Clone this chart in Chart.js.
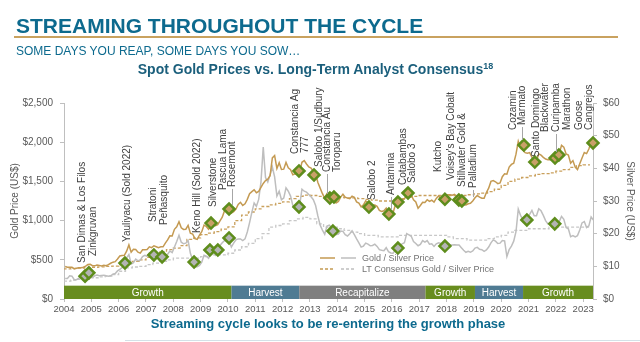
<!DOCTYPE html>
<html>
<head>
<meta charset="utf-8">
<title>Streaming throughout the cycle</title>
<script src="https://cdn.jsdelivr.net/npm/chart.js@4.4.0/dist/chart.umd.min.js"></script>
<style>
    body { margin: 0; background: #fff; font-family: "Liberation Sans", Arial, sans-serif; }
    #page { position: relative; width: 640px; height: 342px; overflow: hidden; background: #fff; }
    #chart { position: absolute; left: 0; top: 0; }
    .txt { position: absolute; line-height: 1; white-space: nowrap; }
    #title { left: 16px; top: 15px; font-size: 21px; font-weight: bold; color: #0d6a8e; }
    #rule { position: absolute; left: 14px; top: 36px; width: 604px; height: 2px; background: #c9a25f; }
    #subtitle { left: 16px; top: 45px; font-size: 12px; color: #0d6a8e; }
    #chartTitle { left: 0; width: 631px; top: 62px; text-align: center; font-size: 14px; font-weight: bold; color: #1b5f7c; }
    #chartTitle span { font-size: 9px; position: relative; top: -5px; }
    #caption { left: 0; width: 656px; top: 317px; text-align: center; font-size: 13px; font-weight: bold; color: #0d6a8e; }
    #footLine { position: absolute; left: 125px; top: 340px; width: 515px; height: 1px; background: #d4e1e7; }
</style>
</head>
<body>
<div id="page">
    <canvas id="chart" width="640" height="342"></canvas>
    <div class="txt" id="title">STREAMING THROUGHOUT THE CYCLE</div>
    <div id="rule"></div>
    <div class="txt" id="subtitle">SOME DAYS YOU REAP, SOME DAYS YOU SOW…</div>
    <div class="txt" id="chartTitle">Spot Gold Prices vs. Long-Term Analyst Consensus<span>18</span></div>
    <div class="txt" id="caption">Streaming cycle looks to be re-entering the growth phase</div>
    <div id="footLine"></div>
</div>
<script>
'use strict';

// Monthly spot prices, Jan 2004 - May 2023
var goldPrice = [
    414, 405, 406, 404, 384, 392, 398, 400, 405, 420, 439, 442,
    424, 423, 434, 429, 422, 431, 424, 438, 456, 470, 476, 510,
    549, 555, 557, 610, 690, 596, 633, 632, 598, 585, 627, 629,
    631, 665, 655, 679, 667, 655, 665, 665, 712, 754, 806, 803,
    889, 922, 985, 909, 888, 890, 939, 839, 829, 770, 760, 816,
    858, 943, 925, 890, 928, 945, 934, 949, 996, 1043, 1127, 1135,
    1118, 1095, 1113, 1148, 1205, 1233, 1193, 1215, 1271, 1343, 1370, 1392,
    1356, 1372, 1424, 1474, 1510, 1529, 1572, 1800, 1830, 1665, 1739, 1652,
    1656, 1742, 1673, 1650, 1585, 1596, 1594, 1626, 1744, 1765, 1722, 1684,
    1671, 1627, 1593, 1487, 1414, 1343, 1286, 1347, 1349, 1316, 1275, 1225,
    1244, 1300, 1336, 1299, 1287, 1279, 1311, 1296, 1239, 1223, 1176, 1200,
    1251, 1227, 1179, 1198, 1199, 1181, 1129, 1117, 1125, 1159, 1086, 1068,
    1097, 1199, 1246, 1242, 1260, 1276, 1337, 1341, 1326, 1266, 1238, 1157,
    1192, 1234, 1231, 1266, 1246, 1260, 1236, 1283, 1315, 1280, 1282, 1265,
    1331, 1331, 1325, 1335, 1304, 1282, 1238, 1202, 1199, 1215, 1221, 1250,
    1291, 1320, 1300, 1285, 1284, 1359, 1413, 1500, 1510, 1495, 1471, 1480,
    1560, 1597, 1592, 1683, 1716, 1732, 1847, 2010, 1922, 1900, 1866, 1858,
    1867, 1808, 1718, 1760, 1850, 1834, 1807, 1785, 1777, 1777, 1821, 1790,
    1817, 1856, 1960, 1937, 1849, 1837, 1732, 1765, 1681, 1650, 1726, 1798,
    1868, 1855, 1913, 2000, 1990
];

var silverPrice = [
    6.3, 6.3, 7.1, 7.0, 5.9, 5.9, 6.4, 6.6, 6.3, 7.2, 7.5, 7.0,
    6.6, 7.1, 7.3, 7.1, 7.2, 7.3, 7.1, 7.0, 7.1, 7.6, 7.8, 8.6,
    9.1, 9.6, 10.4, 12.6, 13.6, 10.7, 11.1, 12.2, 11.7, 11.9, 13.0, 13.4,
    13.1, 14.1, 13.3, 13.6, 13.4, 13.4, 12.9, 12.2, 12.9, 13.7, 14.7, 14.2,
    15.9, 17.6, 19.5, 17.4, 16.9, 17.1, 17.9, 14.0, 12.0, 9.8, 9.9, 10.3,
    11.3, 13.4, 13.1, 12.5, 14.0, 14.7, 13.4, 14.3, 16.4, 17.2, 17.9, 17.7,
    17.8, 15.9, 17.1, 18.1, 18.4, 18.4, 17.9, 18.4, 20.5, 23.4, 26.5, 29.4,
    28.4, 30.5, 35.8, 46.5, 37.2, 35.8, 38.0, 40.4, 37.4, 31.5, 33.0, 30.4,
    30.9, 34.0, 33.0, 31.5, 28.6, 27.9, 27.5, 28.7, 33.6, 33.0, 32.7, 32.0,
    31.3, 30.4, 28.6, 25.4, 22.6, 21.1, 19.8, 22.3, 22.6, 21.9, 20.7, 19.7,
    19.9, 20.8, 20.7, 19.7, 19.3, 20.0, 20.9, 19.7, 18.4, 17.2, 15.9, 16.2,
    17.1, 16.8, 16.3, 16.4, 16.8, 16.1, 15.1, 14.9, 14.8, 15.7, 14.5, 14.1,
    14.0, 15.0, 15.4, 16.3, 16.9, 17.2, 20.0, 19.6, 19.2, 17.6, 17.0, 16.3,
    16.7, 17.9, 17.4, 17.9, 16.8, 16.9, 16.1, 16.9, 17.2, 17.0, 17.0, 16.1,
    17.1, 16.6, 16.5, 16.6, 16.5, 16.5, 15.7, 14.9, 14.3, 14.6, 14.3, 14.7,
    15.6, 15.8, 15.2, 15.1, 14.6, 15.0, 15.9, 17.2, 18.1, 17.7, 17.0, 17.1,
    17.9, 17.8, 13.0, 15.1, 16.2, 17.7, 20.6, 27.5, 25.6, 24.3, 23.6, 24.8,
    25.9, 27.1, 25.5, 25.5, 27.6, 27.0, 25.6, 24.0, 23.0, 23.4, 24.1, 22.6,
    23.6, 23.7, 25.3, 24.4, 21.9, 21.5, 19.1, 19.4, 19.0, 19.4, 21.1, 23.3,
    23.7, 21.9, 22.4, 25.1, 24.2
];

// Quarterly long-term analyst consensus, Q1 2004 - Q2 2023
var ltGold = [
    380, 385, 390, 395,  400, 405, 410, 415,  420, 440, 460, 480,
    500, 530, 570, 600,  630, 650, 680, 760,  780, 820, 840, 860,
    890, 920, 1000, 1070,  1110, 1150, 1180, 1200,  1220, 1240, 1280, 1310,
    1325, 1320, 1310, 1300,  1300, 1300, 1290, 1290,  1280, 1270, 1260, 1250,
    1250, 1260, 1280, 1300,  1310, 1320, 1320, 1320,  1320, 1320, 1320, 1320,
    1330, 1340, 1350, 1370,  1400, 1450, 1500, 1530,  1550, 1570, 1590, 1600,
    1610, 1630, 1650, 1680,  1700, 1710
];

var ltSilver = [
    5.5, 5.5, 5.8, 6.0,  6.2, 6.5, 6.8, 7.0,  7.5, 8.5, 9.5, 9.8,
    10.0, 10.5, 11.0, 11.5,  12.0, 12.5, 12.5, 12.5,  12.5, 13.0, 13.5, 13.5,
    13.5, 14.0, 15.0, 16.0,  17.0, 18.5, 20.0, 22.0,  22.5, 23.0, 24.0, 24.5,
    25.0, 24.5, 23.0, 22.0,  22.0, 21.5, 21.0, 20.5,  20.0, 19.5, 19.5, 19.0,
    19.0, 19.0, 19.5, 19.5,  19.5, 19.5, 19.5, 19.5,  19.5, 19.0, 18.5, 18.5,
    18.0, 18.0, 18.0, 18.5,  19.0, 19.5, 20.5, 21.0,  21.0, 21.5, 21.5, 21.5,
    22.0, 22.0, 22.0, 22.0,  22.0, 22.0
];

// Streaming cycle phases
var phaseNames = ['Growth', 'Harvest', 'Recapitalize', 'Growth', 'Harvest', 'Growth'];
var phaseStart = [2004, 2010.13, 2012.61, 2017.23, 2019.04, 2020.8];
var phaseEnd   = [2010.13, 2012.61, 2017.23, 2019.04, 2020.8, 2023.36];
var phaseColor = ['#688d1f', '#4f7b93', '#7f7f7f', '#688d1f', '#4f7b93', '#688d1f'];

// Stream / royalty deals sitting on the gold and silver lines
var goldDealYear  = [2009.38, 2010.04, 2012.60, 2013.15, 2013.73, 2013.88, 2015.16, 2015.89, 2016.22, 2016.59, 2017.94, 2018.45, 2018.56, 2020.83, 2021.23, 2021.97, 2022.11, 2023.36];
var goldDealPrice = [969, 1148, 1633, 1582, 1288, 1301, 1173, 1084, 1237, 1352, 1272, 1263, 1250, 1964, 1747, 1798, 1837, 1990];
var silverDealYear  = [2004.77, 2004.91, 2006.23, 2007.29, 2007.59, 2008.76, 2009.34, 2009.63, 2010.04, 2012.60, 2013.84, 2016.22, 2017.94, 2020.94, 2021.96];
var silverDealPrice = [7.0, 8.0, 11.0, 13.5, 12.9, 11.3, 15.0, 15.0, 18.7, 28.2, 20.8, 15.6, 16.2, 24.2, 23.0];

// Deal names: [text, year, gold-axis value where the text starts, leader line end]
var dealLabels = [
    ['San Dimas & Los Filos', 2004.65, 459, null],
    ['Zinkgruvan', 2005.06, 548, null],
    ['Yauliyacu (Sold 2022)', 2006.31, 727, null],
    ['Stratoni', 2007.26, 982, null],
    ['Peñasquito', 2007.66, 944, null],
    ['Keno Hill (Sold 2022)', 2008.87, 842, null],
    ['Silverstone', 2009.45, 1173, null],
    ['Pascua Lama', 2009.82, 1390, null],
    ['Rosemont', 2010.15, 1429, 1200],
    ['Constancia Ag', 2012.45, 1850, null],
    ['777', 2012.82, 1862, null],
    ['Salobo 1/Sudbury', 2013.33, 1684, null],
    ['Constancia Au', 2013.62, 1620, 1340],
    ['Toroparu', 2013.99, 1620, null],
    ['Salobo 2', 2015.27, 1263, null],
    ['Antamina', 2015.96, 1327, 1135],
    ['Cotabambas', 2016.40, 1454, null],
    ['Salobo 3', 2016.73, 1480, null],
    ['Kutcho', 2017.68, 1620, null],
    ["Voisey's Bay Cobalt", 2018.16, 1518, null],
    ['Stillwater Gold &', 2018.56, 1429, null],
    ['Palladium', 2018.97, 1416, 1300],
    ['Cozamin', 2020.43, 2156, null],
    ['Marmato', 2020.76, 2219, 2028],
    ['Santo Domingo', 2021.27, 1811, null],
    ['Blackwater', 2021.60, 2130, null],
    ['Curipamba', 2022.00, 2130, 1875],
    ['Marathon', 2022.40, 2156, null],
    ['Goose', 2022.84, 2156, null],
    ['Cangrejos', 2023.21, 2156, null]
];

var FONT = '"Liberation Sans", Arial, sans-serif';
var GOLD = '#c49a52';
var SILVER = '#bebebe';
var DEAL_GREEN = '#5e8d1c';

function monthly(values) {
    var out = [];
    for (var i = 0; i < values.length; i++) {
        out.push({x: 2004 + (i + 0.5) / 12, y: values[i]});
    }
    return out;
}

function quarterly(values) {
    var out = [];
    for (var i = 0; i < values.length; i++) {
        out.push({x: 2004 + i / 4, y: values[i]});
    }
    return out;
}

function pairs(xs, ys) {
    var out = [];
    for (var i = 0; i < xs.length; i++) {
        out.push({x: xs[i], y: ys[i]});
    }
    return out;
}

// Phase bands along the bottom of the plot
var phasePlugin = {
    id: 'phases',
    beforeDatasetsDraw: function(chart) {
        var ctx = chart.ctx;
        var x = chart.scales.x;
        var y = chart.scales.y;
        var top = y.getPixelForValue(170);
        var bottom = y.getPixelForValue(0);
        ctx.save();
        for (var i = 0; i < phaseNames.length; i++) {
            var x1 = x.getPixelForValue(phaseStart[i]);
            var x2 = x.getPixelForValue(phaseEnd[i]);
            ctx.fillStyle = phaseColor[i];
            ctx.fillRect(x1, top, x2 - x1, bottom - top);
            ctx.fillStyle = '#ffffff';
            ctx.font = '10px ' + FONT;
            ctx.textAlign = 'center';
            ctx.textBaseline = 'middle';
            ctx.fillText(phaseNames[i], (x1 + x2) / 2, (top + bottom) / 2 + 0.5);
        }
        ctx.restore();
    }
};

// Rotated deal names, leader lines and the small legend
var labelPlugin = {
    id: 'dealLabels',
    afterDatasetsDraw: function(chart) {
        var ctx = chart.ctx;
        var x = chart.scales.x;
        var y = chart.scales.y;
        ctx.save();
        ctx.font = '10px ' + FONT;
        ctx.fillStyle = '#404040';
        ctx.strokeStyle = '#a6a6a6';
        ctx.lineWidth = 1;
        dealLabels.forEach(function(lab) {
            var px = Math.round(x.getPixelForValue(lab[1]));
            var py = y.getPixelForValue(lab[2]);
            if (lab[3] !== null) {
                ctx.beginPath();
                ctx.moveTo(px + 0.5, py + 2);
                ctx.lineTo(px + 0.5, y.getPixelForValue(lab[3]));
                ctx.stroke();
            }
            ctx.save();
            ctx.translate(px, py);
            ctx.rotate(-Math.PI / 2);
            ctx.textAlign = 'left';
            ctx.textBaseline = 'middle';
            ctx.fillText(lab[0], 0, 0);
            ctx.restore();
        });

        // legend
        var rows = [
            {text: 'Gold / Silver Price', dash: [], y: 258},
            {text: 'LT Consensus Gold / Silver Price', dash: [3, 2], y: 269}
        ];
        ctx.lineWidth = 1.5;
        rows.forEach(function(r) {
            ctx.setLineDash(r.dash);
            ctx.strokeStyle = GOLD;
            ctx.beginPath();
            ctx.moveTo(320, r.y);
            ctx.lineTo(335, r.y);
            ctx.stroke();
            ctx.strokeStyle = SILVER;
            ctx.beginPath();
            ctx.moveTo(341, r.y);
            ctx.lineTo(356, r.y);
            ctx.stroke();
        });
        ctx.setLineDash([]);
        ctx.font = '9px ' + FONT;
        ctx.fillStyle = '#737373';
        ctx.textAlign = 'left';
        ctx.textBaseline = 'middle';
        rows.forEach(function(r) {
            ctx.fillText(r.text, 362, r.y + 0.5);
        });
        ctx.restore();
    }
};

Chart.defaults.font.family = FONT;

var ctx = document.getElementById('chart').getContext('2d');
var chart = new Chart(ctx, {
    type: 'line',
    data: {
        datasets: [
            {
                label: 'Gold deals',
                data: pairs(goldDealYear, goldDealPrice),
                yAxisID: 'y',
                showLine: false,
                pointStyle: 'rectRot',
                pointRadius: 5.5,
                pointBorderWidth: 2.5,
                pointBorderColor: DEAL_GREEN,
                pointBackgroundColor: '#c9a068',
                clip: 10
            },
            {
                label: 'Silver deals',
                data: pairs(silverDealYear, silverDealPrice),
                yAxisID: 'y2',
                showLine: false,
                pointStyle: 'rectRot',
                pointRadius: 5.5,
                pointBorderWidth: 2.5,
                pointBorderColor: DEAL_GREEN,
                pointBackgroundColor: '#b4b4b4',
                clip: 10
            },
            {
                label: 'Gold Price',
                data: monthly(goldPrice),
                yAxisID: 'y',
                borderColor: GOLD,
                borderWidth: 1.5,
                pointRadius: 0
            },
            {
                label: 'Silver Price',
                data: monthly(silverPrice),
                yAxisID: 'y2',
                borderColor: SILVER,
                borderWidth: 1.5,
                pointRadius: 0
            },
            {
                label: 'LT Consensus Gold',
                data: quarterly(ltGold),
                yAxisID: 'y',
                borderColor: '#c9a05c',
                borderWidth: 1.3,
                borderDash: [3, 2],
                stepped: 'after',
                pointRadius: 0
            },
            {
                label: 'LT Consensus Silver',
                data: quarterly(ltSilver),
                yAxisID: 'y2',
                borderColor: '#c8c8c8',
                borderWidth: 1.3,
                borderDash: [3, 2],
                stepped: 'after',
                pointRadius: 0
            }
        ]
    },
    options: {
        responsive: false,
        animation: false,
        layout: {
            padding: {top: 103, left: 0, right: 0, bottom: 0}
        },
        plugins: {
            legend: {display: false},
            tooltip: {enabled: false}
        },
        scales: {
            x: {
                type: 'linear',
                min: 2004,
                max: 2023.36,
                afterFit: function(scale) { scale.height = 43; },
                grid: {drawOnChartArea: false, tickLength: 3, color: '#bfbfbf'},
                border: {display: false},
                ticks: {
                    stepSize: 1,
                    includeBounds: false,
                    autoSkip: false,
                    maxRotation: 0,
                    padding: 2,
                    color: '#595959',
                    font: {size: 9.5},
                    callback: function(v) { return String(v); }
                }
            },
            y: {
                position: 'left',
                min: 0,
                max: 2500,
                afterFit: function(scale) { scale.width = 64; },
                grid: {drawOnChartArea: false, tickLength: 4, color: '#bfbfbf'},
                border: {color: '#bfbfbf'},
                ticks: {
                    stepSize: 500,
                    padding: 7,
                    color: '#595959',
                    font: {size: 10},
                    callback: function(v) { return '$' + v.toLocaleString('en-US'); }
                },
                title: {
                    display: true,
                    text: 'Gold Price (US$)',
                    color: '#595959',
                    font: {size: 10},
                    padding: {top: 9, bottom: 0}
                }
            },
            y2: {
                position: 'right',
                min: 0,
                max: 60,
                afterFit: function(scale) { scale.width = 47; },
                grid: {drawOnChartArea: false, tickLength: 4, color: '#bfbfbf'},
                border: {color: '#bfbfbf'},
                ticks: {
                    stepSize: 10,
                    padding: 6,
                    color: '#595959',
                    font: {size: 10},
                    callback: function(v) { return '$' + v; }
                },
                title: {
                    display: true,
                    text: 'Silver Price (US$)',
                    color: '#595959',
                    font: {size: 10},
                    padding: {top: 4, bottom: 0}
                }
            }
        }
    },
    plugins: [phasePlugin, labelPlugin]
});
</script>
</body>
</html>
